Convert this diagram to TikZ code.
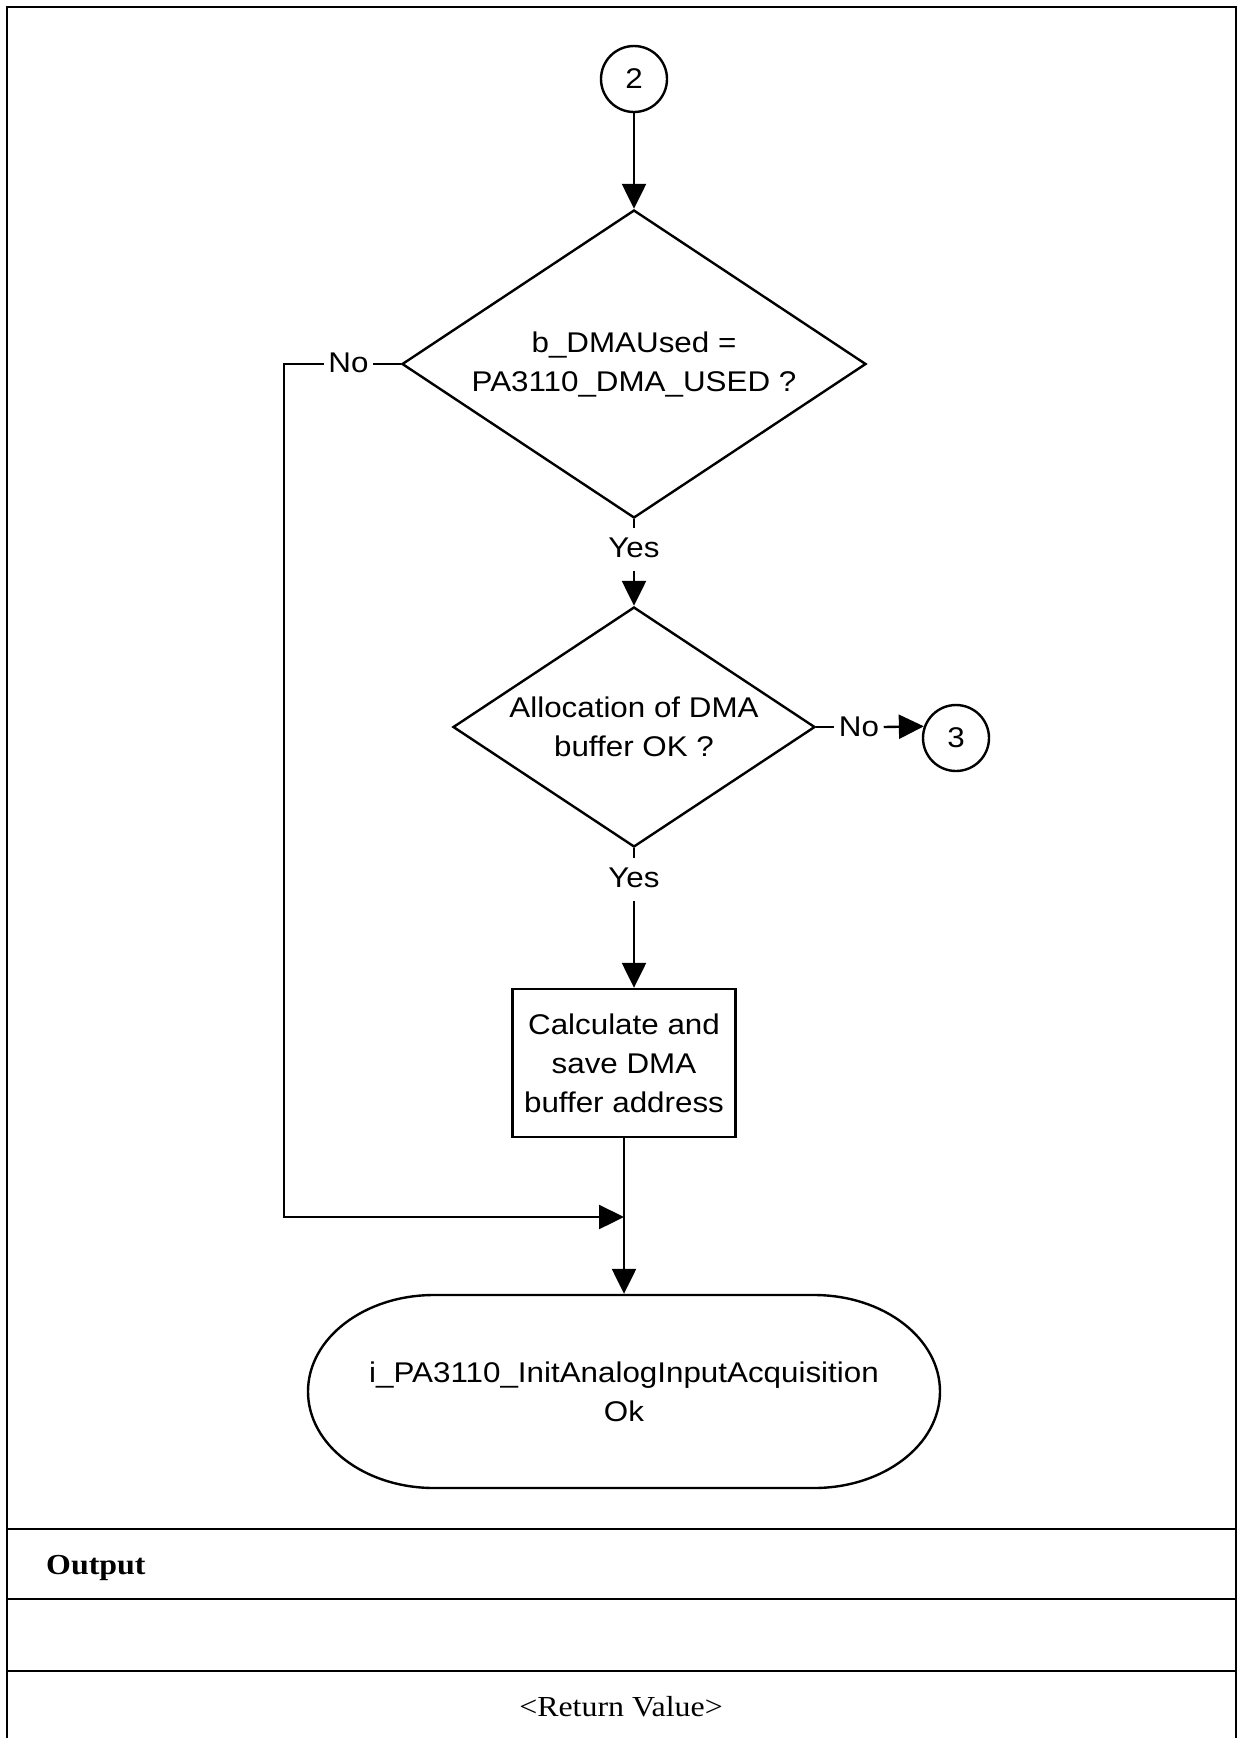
\documentclass[tikz,border=0pt]{standalone}
\usepackage{fontspec}
\setmainfont{Liberation Serif}
\newfontfamily\flowfont{Liberation Sans}[FakeStretch=1.1]
\newfontfamily\tabfont{Liberation Serif}[FakeStretch=1.1]
\usetikzlibrary{arrows.meta,shapes.geometric,calc}

\begin{document}
\begin{tikzpicture}[x=1pt,y=-1pt,
  line width=2.4pt,
  flow/.style={font=\flowfont\fontsize{28.5}{39}\selectfont},
  conn/.style={draw, circle, minimum size=66pt, inner sep=0pt, flow},
  decision/.style={draw, diamond, aspect=1.5, inner sep=0pt, align=center, flow},
  process/.style={draw, rectangle, inner sep=0pt, align=center, flow},
  lbl/.style={flow, inner xsep=3.5pt, inner ysep=8pt, text depth=5pt, anchor=base},
  arr/.style={-{Triangle[length=25pt,width=24pt]}},
  rule/.style={line width=2.2pt},
  tabtext/.style={font=\tabfont\fontsize{29}{34}\selectfont, inner sep=0pt},
]
\useasboundingbox (0,0) rectangle (1237,1738);

% outer frame and table rules
\draw[rule] (7,1738) -- (7,7) -- (1236,7) -- (1236,1738);
\draw[rule] (7,1529) -- (1237,1529);
\draw[rule] (7,1599) -- (1237,1599);
\draw[rule] (7,1671) -- (1237,1671);

\node[tabtext, font=\tabfont\bfseries\fontsize{29}{34}\selectfont, anchor=base west] (out) at (45,1574) {Output};
\node[tabtext, anchor=base] (ret) at (621,1716) {<Return Value>};

% flowchart nodes
\node[conn] (c2) at (634,79) {2};
\node[decision, minimum width=464pt, minimum height=308pt] (d1) at (634,364)
  {b\_DMAUsed =\\PA3110\_DMA\_USED ?};
\node[lbl] (no1) at (348.5,372.7) {No};
\node[lbl] (yes1) at (634,557) {Yes};
\node[decision, minimum width=362pt, minimum height=240pt] (d2) at (634,727)
  {Allocation of DMA\\buffer OK ?};
\node[lbl] (no2) at (859,736) {No};
\node[conn] (c3) at (956,738) {3};
\node[lbl] (yes2) at (634,887) {Yes};
\node[process, minimum width=223pt, minimum height=148pt] (box) at (624,1063)
  {Calculate and\\save DMA\\buffer address};
\node[flow, minimum width=632pt, minimum height=193pt, inner sep=0pt, align=center] (term)
  at (624,1391.5) {i\_PA3110\_InitAnalogInputAcquisition\\Ok};

% terminal outline: flat top and bottom, half-elliptic ends
\draw (434,1295) -- (814,1295)
  .. controls (883.6,1295) and (940,1338.2) .. (940,1391.5)
  .. controls (940,1444.8) and (883.6,1488) .. (814,1488)
  -- (434,1488)
  .. controls (364.4,1488) and (308,1444.8) .. (308,1391.5)
  .. controls (308,1338.2) and (364.4,1295) .. (434,1295) -- cycle;

\coordinate (lc) at (284,1217);
\coordinate (j) at (624,1217);

% connectors
\draw[arr] (c2.south) -- (d1.north);
\draw (d1.south) -- (yes1.north);
\draw[arr] (yes1.south) -- (d2.north);
\draw (d2.south) -- (yes2.north);
\draw[arr] (yes2.south) -- (yes2.south |- box.north);
\draw (d2.east) -- (no2.west |- d2.east);
\draw[arr] (no2.east |- d2.east) -- (c3.160);
\draw (d1.west) -- (no1.east |- d1.west);
\draw[arr] (no1.west |- d1.west) -| (lc) -- (j);
\draw[arr] (box.south) -- (term.north);
\end{tikzpicture}
\end{document}
